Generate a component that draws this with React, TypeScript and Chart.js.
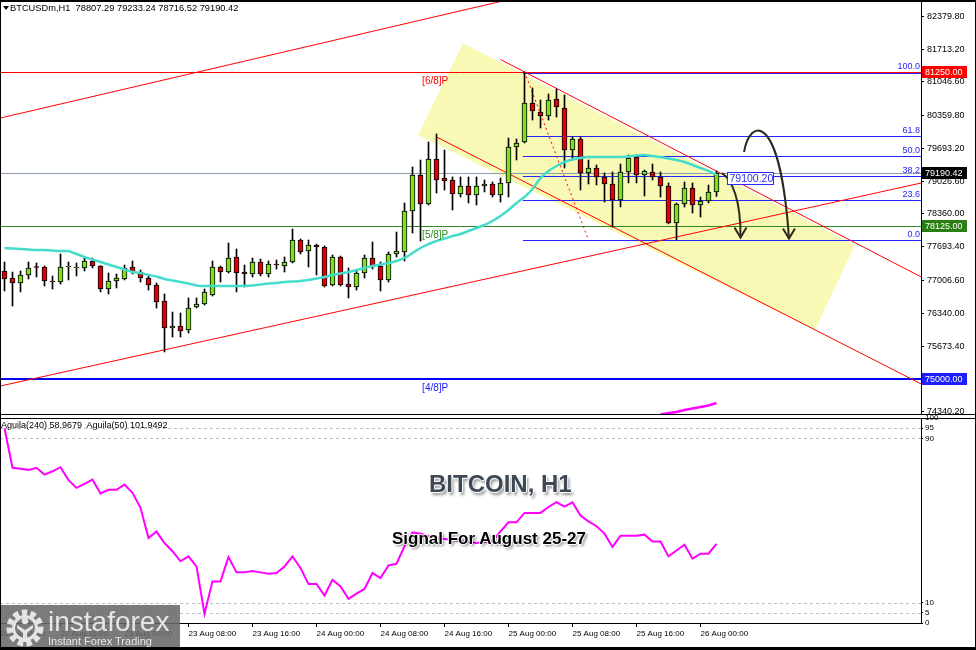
import React, { useEffect, useRef } from "react";
import { Chart, registerables } from "chart.js";

Chart.register(...registerables);

// ---------------- data ----------------
const opens = [
  77201, 77058, 76957, 77119, 77282, 77282, 76997, 76977, 77282, 77262,
  77262, 77404, 77302, 76835, 76997, 77038, 77282, 77180, 77058, 76916,
  76591, 76042, 76082, 76001, 76469, 76530, 76713, 77282, 77180, 77485,
  77180, 77140, 77383, 77140, 77343, 77302, 77383, 77831, 77607, 77729,
  77688, 76916, 77485, 76936, 76875, 77160, 77465, 77302, 77018, 77546,
  77587, 78420, 79152, 78563, 79477, 79091, 79051, 78766, 78929, 78746,
  78929, 78969, 78746, 78990, 79721, 79823, 80616, 80433, 80352, 80697,
  80514, 79660, 79884, 79193, 79295, 79112, 78969, 78644, 79213, 79518,
  79152, 79213, 79112, 78929, 78176, 78563, 78888, 78542, 78624, 78807.29,
];
const highs = [
  77383, 77180, 77201, 77383, 77363, 77302, 77099, 77546, 77383, 77363,
  77465, 77465, 77310, 77160, 77140, 77322, 77404, 77221, 77119, 76957,
  76733, 76367, 76347, 76652, 76652, 76835, 77404, 77302, 77770, 77648,
  77322, 77465, 77444, 77404, 77424, 77485, 78054, 77851, 77831, 77749,
  77709, 77526, 77505, 77262, 77221, 77526, 77790, 77383, 77587, 77993,
  78583, 79315, 79457, 79823, 79986, 79660, 79112, 79112, 79112, 79112,
  79051, 79010, 79091, 79904, 79884, 81250, 80921, 80677, 80799, 80901,
  80779, 79925, 79925, 79457, 79355, 79193, 79213, 79376, 79559, 79559,
  79254, 79376, 79213, 78990, 78583, 79010, 78990, 78705, 78949, 79233.24,
];
const lows = [
  76794, 76489, 76774, 77038, 77079, 76896, 76835, 76936, 77018, 77099,
  77201, 77262, 76774, 76733, 76855, 77018, 77140, 76977, 76814, 76448,
  75554, 75859, 75859, 75940, 76448, 76509, 76692, 76977, 77160, 76774,
  76875, 77079, 77099, 77079, 77241, 77180, 77363, 77546, 77282, 77119,
  76875, 76896, 76896, 76652, 76814, 77058, 77241, 76794, 76977, 77485,
  77404, 77973, 77810, 78542, 78786, 78847, 78441, 78705, 78583, 78542,
  78807, 78705, 78603, 78705, 79457, 79803, 80270, 80108, 80270, 80331,
  79295, 79457, 78847, 78969, 78949, 78603, 78095, 78502, 78990, 78990,
  78725, 79051, 78705, 78160, 77831, 78502, 78380, 78298, 78583, 78716.52,
];
const closes = [
  77038, 76957, 77119, 77262, 77272, 76997, 76977, 77282, 77290, 77272,
  77404, 77302, 76835, 76997, 77058, 77262, 77180, 77058, 76916, 76570,
  76042, 76082, 75981, 76448, 76530, 76774, 77282, 77180, 77465, 77160,
  77140, 77383, 77140, 77343, 77322, 77383, 77831, 77587, 77729, 77688,
  76896, 77485, 76916, 76875, 77160, 77465, 77282, 77018, 77546, 77607,
  78420, 79152, 78563, 79477, 79051, 79030, 78766, 78929, 78746, 78929,
  78969, 78746, 78990, 79721, 79803, 80616, 80453, 80352, 80677, 80535,
  79660, 79884, 79193, 79295, 79112, 78969, 78644, 79213, 79498, 79152,
  79234, 79112, 78929, 78176, 78563, 78888, 78542, 78624, 78807, 79190.42,
];
const maValues = [
  77668, 77658, 77648, 77638, 77627, 77627, 77617, 77607, 77607, 77546,
  77485, 77434, 77383, 77333, 77282, 77231, 77180, 77160, 77119, 77089,
  77038, 77007, 76977, 76946, 76906, 76896, 76896, 76896, 76896, 76896,
  76896, 76906, 76926, 76946, 76957, 76977, 76987, 76997, 77018, 77048,
  77079, 77119, 77150, 77180, 77221, 77262, 77302, 77333, 77363, 77404,
  77465, 77566, 77668, 77749, 77810, 77861, 77912, 77953, 78014, 78075,
  78136, 78217, 78319, 78441, 78583, 78705, 78868, 79091, 79234, 79335,
  79417, 79467, 79498, 79518, 79518, 79518, 79518, 79518, 79528, 79549,
  79559, 79539, 79518, 79488, 79457, 79417, 79355, 79295, 79234, 79152,
];
const aguila240 = [
  95, 75.7, 75.2, 74.7, 75.7, 72.4, 74, 76, 69.7, 65.9,
  67.9, 70, 63.2, 65, 65, 67.5, 63.5, 56.2, 41.5, 44.6,
  39, 35, 30.1, 32.5, 27.6, 4.5, 20.3, 20.3, 32.2, 24.7,
  24.7, 25.4, 24.7, 24, 24.4, 27.6, 32.5, 26.8, 19, 19,
  13.4, 21.1, 17.8, 11.8, 14.3, 16.6, 24.4, 21.9, 28.1, 28.9,
  37.4, 44.2, 43.6, 42.3, 41.5, 41, 40.5, 40, 39.5, 39,
  39.5, 39.8, 44.7, 49.1, 49.1, 53.7, 53.7, 53.7, 56.6, 58.9,
  56.8, 58.9, 52.4, 49.6, 47.2, 43.6, 37.1, 42.6, 42.6, 42.6,
  43.1, 39.8, 39.8, 32.5, 35.4, 38.2, 31.4, 33.8, 33.8, 38.6,
];
const aguila50Idx = [82, 83, 84, 85, 86, 87, 88, 89];
const aguila50Price = [74283, 74314, 74334, 74375, 74405, 74436, 74466, 74517];

const priceTicks = [
  82379.8, 81713.2, 81046.6, 80359.8, 79693.2, 79026.6, 78360.0,
  77693.4, 77006.6, 76340.0, 75673.4, 74340.2,
];
const indicatorTicks = [100, 95, 90, 10, 5, 0];
const indicatorLevels = [95, 90, 10, 5];
const timeTickIdx = [-0.5, 7, 15, 23, 31, 39, 47, 55, 63, 71, 79, 87];
const timeLabels = [
  "22 Aug 2026", "22 Aug 16:00", "23 Aug 00:00", "23 Aug 08:00", "23 Aug 16:00",
  "24 Aug 00:00", "24 Aug 08:00", "24 Aug 16:00", "25 Aug 00:00", "25 Aug 08:00",
  "25 Aug 16:00", "26 Aug 00:00",
];

// horizontal pivot levels
const levelPrices = [81250, 78125, 75000];
const levelLabels = ["[6/8]P", "[5/8]P", "[4/8]P"];
const levelColors = ["#FF0000", "#2E8B22", "#0000FF"];
const levelLabelIdx = 52.2;

// fibonacci
const fibHigh = 81250;
const fibLow = 77831;
const fibStartIdx = 64.8;
const fibBaseIdx = [65, 73];
const fibRatios = [100, 61.8, 50, 38.2, 23.6, 0];

// trend lines (bar index, price)
const trendStartIdx = [-0.5, -0.5, 62, 54];
const trendStartPrice = [80311, 74863, 81500, 79925];
const trendEndIdx = [69.5, 114.6, 114.6, 114.6];
const trendEndPrice = [82964, 78990, 77079, 74903];

// yellow zone
const zoneIdx = [57.31, 106.31, 101.31, 51.69];
const zonePrice = [81836, 77729, 76001, 79965];

// arrows (cubic bezier control points)
const arrow1Idx = [89.69, 90.94, 92.06, 92.0];
const arrow1Price = [79193, 79051, 78644, 77882];
const arrow2Idx = [92.44, 93.19, 96.94, 98.06];
const arrow2Price = [79620, 80311, 80474, 77861];

const boxLabelIdx = 90.3;
const boxLabelPrice = 79100.2;

const axisBoxPrices = [81250, 79190.42, 78125, 75000];
const axisBoxColors = ["#FF0000", "#000000", "#2A7F12", "#1E1EFF"];

// ---------------- scales ----------------
const X_MIN = -0.5625;
const X_MAX = 114.5625;
const Y_MAX = 82710;
const Y_MIN = 74293.4;

const GREEN = "#7CE01E";
const RED = "#E00000";
const FONT = "Liberation Sans";

const mainPlugin = {
  id: "mainAnnotations",
  beforeDatasetsDraw(chart: any) {
    const { ctx, chartArea: a } = chart;
    const X = (v: number) => chart.scales.x.getPixelForValue(v);
    const Y = (v: number) => chart.scales.y.getPixelForValue(v);
    ctx.save();
    ctx.beginPath();
    ctx.rect(a.left, a.top, a.right - a.left, a.bottom - a.top);
    ctx.clip();

    // yellow zone
    ctx.beginPath();
    zoneIdx.forEach((iv, k) => {
      const px = X(iv), py = Y(zonePrice[k]);
      if (k === 0) ctx.moveTo(px, py); else ctx.lineTo(px, py);
    });
    ctx.closePath();
    ctx.fillStyle = "#F9F9B6";
    ctx.fill();

    const hline = (price: number, x0: number, x1: number, color: string, w: number, dy = 0) => {
      const yy = Math.round(Y(price)) + (w % 2 ? 0.5 : 0) + dy;
      ctx.beginPath();
      ctx.moveTo(x0, yy);
      ctx.lineTo(x1, yy);
      ctx.strokeStyle = color;
      ctx.lineWidth = w;
      ctx.stroke();
    };

    // current price line
    hline(closes[closes.length - 1], a.left, a.right, "#8C9CB2", 1);

    // pivot levels
    levelPrices.forEach((p, k) => hline(p, a.left, a.right, levelColors[k], k === 2 ? 2 : 1));

    // fib levels
    fibRatios.forEach((r) => {
      const p = fibLow + (fibHigh - fibLow) * r / 100;
      hline(p, X(fibStartIdx), a.right, "#2424FF", 1, r === 100 ? 1 : 0);
    });

    // trend lines
    ctx.setLineDash([]);
    trendStartIdx.forEach((s, k) => {
      ctx.beginPath();
      ctx.moveTo(X(s), Y(trendStartPrice[k]));
      ctx.lineTo(X(trendEndIdx[k]), Y(trendEndPrice[k]));
      ctx.strokeStyle = "#FF0000";
      ctx.lineWidth = 1;
      ctx.stroke();
    });

    // fib base dotted line
    ctx.beginPath();
    ctx.setLineDash([2, 3]);
    ctx.moveTo(X(fibBaseIdx[0]), Y(fibHigh));
    ctx.lineTo(X(fibBaseIdx[1]), Y(fibLow));
    ctx.strokeStyle = "#FF0000";
    ctx.stroke();
    ctx.setLineDash([]);
    ctx.restore();
  },
  afterDatasetsDraw(chart: any) {
    const { ctx, chartArea: a } = chart;
    const X = (v: number) => chart.scales.x.getPixelForValue(v);
    const Y = (v: number) => chart.scales.y.getPixelForValue(v);
    ctx.save();
    ctx.beginPath();
    ctx.rect(a.left, a.top, a.right - a.left, a.bottom - a.top);
    ctx.clip();

    // arrows
    const drawArrow = (idx: number[], pr: number[]) => {
      const pts = idx.map((iv, k) => [X(iv), Y(pr[k])]);
      ctx.beginPath();
      ctx.moveTo(pts[0][0], pts[0][1]);
      ctx.bezierCurveTo(pts[1][0], pts[1][1], pts[2][0], pts[2][1], pts[3][0], pts[3][1]);
      ctx.strokeStyle = "#2B2A1C";
      ctx.lineWidth = 2;
      ctx.stroke();
      const [tx, ty] = pts[3];
      ctx.beginPath();
      ctx.moveTo(tx - 6, ty - 10);
      ctx.lineTo(tx, ty);
      ctx.lineTo(tx + 6, ty - 10);
      ctx.stroke();
    };
    drawArrow(arrow1Idx, arrow1Price);
    drawArrow(arrow2Idx, arrow2Price);

    // fib labels
    ctx.font = `9px ${FONT}`;
    ctx.fillStyle = "#2424FF";
    ctx.textAlign = "right";
    ctx.textBaseline = "alphabetic";
    fibRatios.forEach((r) => {
      const p = fibLow + (fibHigh - fibLow) * r / 100;
      ctx.fillText(r.toFixed(1), a.right - 1, Math.round(Y(p)) - 3);
    });

    // level labels
    ctx.textAlign = "left";
    ctx.textBaseline = "top";
    ctx.font = `10px ${FONT}`;
    levelPrices.forEach((p, k) => {
      ctx.fillStyle = levelColors[k] === "#0000FF" ? "#2020FF" : levelColors[k];
      ctx.fillText(levelLabels[k], X(levelLabelIdx), Math.round(Y(p)) + 4);
    });

    // price label box
    const bx = Math.round(X(boxLabelIdx)) + 0.5;
    const by = Math.round(Y(boxLabelPrice)) - 5.5;
    ctx.fillStyle = "#FFFFFF";
    ctx.fillRect(bx, by, 46, 12);
    ctx.strokeStyle = "#2B2BFF";
    ctx.lineWidth = 1;
    ctx.strokeRect(bx, by, 46, 12);
    ctx.fillStyle = "#2B2BFF";
    ctx.font = `10.5px ${FONT}`;
    ctx.textBaseline = "middle";
    ctx.fillText(boxLabelPrice.toFixed(2), bx + 2, by + 6.5);
    ctx.restore();
  },
  afterDraw(chart: any) {
    const { ctx, chartArea: a } = chart;
    const Y = (v: number) => chart.scales.y.getPixelForValue(v);
    ctx.save();
    ctx.font = `9px ${FONT}`;
    ctx.textAlign = "left";
    ctx.textBaseline = "middle";
    axisBoxPrices.forEach((p, k) => {
      const yy = Math.round(Y(p));
      ctx.fillStyle = axisBoxColors[k];
      ctx.fillRect(a.right + 1, yy - 6, 45, 12);
      ctx.fillStyle = "#FFFFFF";
      ctx.fillText(p.toFixed(2), a.right + 4, yy + 0.5);
    });
    ctx.strokeStyle = "#000";
    ctx.lineWidth = 1;
    ctx.beginPath();
    ctx.moveTo(0, a.bottom + 0.5);
    ctx.lineTo(chart.width, a.bottom + 0.5);
    ctx.stroke();
    ctx.restore();
  },
};

const indPlugin = {
  id: "indLevels",
  beforeDatasetsDraw(chart: any) {
    const { ctx, chartArea: a } = chart;
    const y = chart.scales.y;
    ctx.save();
    ctx.setLineDash([3, 3]);
    ctx.strokeStyle = "#BDBDBD";
    ctx.lineWidth = 1;
    indicatorLevels.forEach((v) => {
      const yy = Math.round(y.getPixelForValue(v)) + 0.5;
      ctx.beginPath();
      ctx.moveTo(a.left, yy);
      ctx.lineTo(a.right, yy);
      ctx.stroke();
    });
    ctx.restore();
  },
  afterDraw(chart: any) {
    const { ctx, chartArea: a } = chart;
    ctx.save();
    ctx.strokeStyle = "#000";
    ctx.lineWidth = 1;
    ctx.beginPath();
    ctx.moveTo(0, a.top + 0.5);
    ctx.lineTo(chart.width, a.top + 0.5);
    ctx.stroke();
    ctx.restore();
  },
};

export default function App() {
  const mainRef = useRef<HTMLCanvasElement>(null);
  const indRef = useRef<HTMLCanvasElement>(null);

  useEffect(() => {
    document.body.style.margin = "0";
    const candleColors = closes.map((c, i) => (c >= opens[i] ? GREEN : RED));

    const main = new Chart(mainRef.current as HTMLCanvasElement, {
      type: "bar",
      data: {
        datasets: [
          {
            type: "line",
            label: "MA",
            data: maValues.map((v, i) => ({ x: i, y: v })),
            borderColor: "#44DCCB",
            borderWidth: 2.5,
            pointRadius: 0,
            tension: 0.2,
            order: 0,
          } as any,
          {
            type: "line",
            label: "Aguila50",
            data: aguila50Idx.map((iv, k) => ({ x: iv, y: aguila50Price[k] })),
            borderColor: "#FF00FF",
            borderWidth: 2.5,
            pointRadius: 0,
            order: 0,
          } as any,
          {
            type: "bar",
            label: "body",
            data: opens.map((o, i) => ({ x: i, y: [o, closes[i]] })),
            backgroundColor: candleColors,
            borderColor: "#000000",
            borderWidth: 1,
            borderSkipped: false,
            barThickness: 5,
            minBarLength: 1,
            grouped: false,
            order: 1,
          } as any,
          {
            type: "bar",
            label: "wick",
            data: lows.map((l, i) => ({ x: i, y: [l, highs[i]] })),
            backgroundColor: "#000000",
            borderWidth: 0,
            barThickness: 1,
            grouped: false,
            order: 2,
          } as any,
        ],
      },
      options: {
        animation: false,
        responsive: false,
        maintainAspectRatio: false,
        layout: { padding: { left: 0, right: 0, top: 0, bottom: 4 } },
        plugins: { legend: { display: false }, tooltip: { enabled: false } },
        scales: {
          x: { type: "linear", min: X_MIN, max: X_MAX, display: false, offset: false },
          y: {
            type: "linear",
            position: "right",
            min: Y_MIN,
            max: Y_MAX,
            afterBuildTicks: (s: any) => { s.ticks = priceTicks.map((v) => ({ value: v })); },
            afterFit: (s: any) => { s.width = 55; s.paddingTop = 0; s.paddingBottom = 0; },
            ticks: {
              font: { family: FONT, size: 9 },
              color: "#000",
              padding: 3,
              callback: (v: any) => Number(v).toFixed(2),
            },
            grid: { drawOnChartArea: false, drawTicks: true, tickLength: 3, color: "#000" },
            border: { display: true, color: "#000", width: 1 },
          },
        },
      } as any,
      plugins: [mainPlugin],
    });

    const ind = new Chart(indRef.current as HTMLCanvasElement, {
      type: "line",
      data: {
        datasets: [
          {
            label: "Aguila(240)",
            data: aguila240.map((v, i) => ({ x: i, y: v })),
            borderColor: "#FF00FF",
            borderWidth: 2,
            pointRadius: 0,
            tension: 0,
          },
        ],
      },
      options: {
        animation: false,
        responsive: false,
        maintainAspectRatio: false,
        layout: { padding: { left: 0, right: 0, top: 3, bottom: 0 } },
        plugins: { legend: { display: false }, tooltip: { enabled: false } },
        scales: {
          x: {
            type: "linear",
            min: X_MIN,
            max: X_MAX,
            offset: false,
            afterBuildTicks: (s: any) => { s.ticks = timeTickIdx.map((v) => ({ value: v })); },
            afterFit: (s: any) => { s.height = 27; s.paddingLeft = 0; s.paddingRight = 0; },
            ticks: {
              autoSkip: false,
              maxRotation: 0,
              minRotation: 0,
              align: "start",
              padding: 2,
              font: { family: FONT, size: 8 },
              color: "#000",
              callback: (_v: any, index: number) => timeLabels[index],
            },
            grid: { drawOnChartArea: false, drawTicks: true, tickLength: 4, color: "#000" },
            border: { display: true, color: "#000", width: 1 },
          },
          y: {
            type: "linear",
            position: "right",
            min: 0,
            max: 100,
            afterBuildTicks: (s: any) => { s.ticks = indicatorTicks.map((v) => ({ value: v })); },
            afterFit: (s: any) => { s.width = 55; s.paddingTop = 0; s.paddingBottom = 0; },
            ticks: {
              font: { family: FONT, size: 8 },
              color: "#000",
              padding: 2,
              callback: (v: any) => String(v),
            },
            grid: { drawOnChartArea: false, drawTicks: true, tickLength: 2, color: "#000" },
            border: { display: true, color: "#000", width: 1 },
          },
        },
      } as any,
      plugins: [indPlugin],
    });

    return () => {
      main.destroy();
      ind.destroy();
    };
  }, []);

  return (
    <div
      style={{
        position: "absolute",
        left: 0,
        top: 0,
        width: 976,
        height: 650,
        background: "#FFFFFF",
        overflow: "hidden",
        fontFamily: `${FONT}, Arial, sans-serif`,
      }}
    >
      <canvas ref={mainRef} width={976} height={418} style={{ position: "absolute", left: 0, top: 0 }} />
      <canvas ref={indRef} width={976} height={235} style={{ position: "absolute", left: 0, top: 415 }} />

      {/* header */}
      <div style={{ position: "absolute", left: 3, top: 6, width: 0, height: 0, borderLeft: "3px solid transparent", borderRight: "3px solid transparent", borderTop: "4px solid #000" }} />
      <div style={{ position: "absolute", left: 10, top: 2, fontSize: 9.3, lineHeight: "12px", color: "#000", whiteSpace: "pre" }}>
        {"BTCUSDm,H1  78807.29 79233.24 78716.52 79190.42"}
      </div>

      {/* indicator header */}
      <div style={{ position: "absolute", left: 1, top: 420, fontSize: 9, lineHeight: "11px", color: "#000", whiteSpace: "pre" }}>
        {"Aguila(240) 58.9679  Aguila(50) 101.9492"}
      </div>

      {/* titles */}
      <div
        style={{
          position: "absolute", left: 429, top: 472, fontSize: 24, lineHeight: "24px", fontWeight: 700,
          color: "#3E4955", whiteSpace: "pre",
          textShadow: "1px 0 0 #fff, -1px 0 0 #fff, 0 1px 0 #fff, 0 -1px 0 #fff, 2px 3px 3px rgba(0,0,0,0.45)",
        }}
      >
        BITCOIN, H1
      </div>
      <div
        style={{
          position: "absolute", left: 392, top: 530, fontSize: 17, lineHeight: "17px", fontWeight: 700,
          color: "#000", whiteSpace: "pre",
          textShadow: "1px 0 0 #fff, -1px 0 0 #fff, 0 1px 0 #fff, 0 -1px 0 #fff, 2px 2px 3px rgba(0,0,0,0.5)",
        }}
      >
        Signal For August 25-27
      </div>

      {/* logo */}
      <div style={{ position: "absolute", left: 0, top: 605, width: 180, height: 45, background: "rgba(105,105,105,0.88)" }}>
        <svg width={44} height={44} style={{ position: "absolute", left: 3, top: 1 }} viewBox="0 0 44 44">
          <circle cx={22} cy={22} r={15} fill="none" stroke="#E4E4E4" strokeWidth={7} strokeDasharray="5.2 3.2" />
          <circle cx={22} cy={22} r={11.5} fill="none" stroke="#E4E4E4" strokeWidth={3} />
          <circle cx={22} cy={15} r={3.2} fill="#E4E4E4" />
          <path d="M14 19 L22 24 L30 19 L30 22 L24 27 L24 36 L20 36 L20 27 L14 22 Z" fill="#E4E4E4" />
        </svg>
        <div style={{ position: "absolute", left: 48, top: 1, fontSize: 28, lineHeight: "32px", color: "#E6E6E6", whiteSpace: "pre" }}>
          instaforex
        </div>
        <div style={{ position: "absolute", left: 48, top: 30, fontSize: 11, lineHeight: "13px", color: "#E6E6E6", whiteSpace: "pre" }}>
          Instant Forex Trading
        </div>
      </div>

      {/* frame */}
      <div
        style={{
          position: "absolute", left: 0, top: 0, width: 976, height: 650, boxSizing: "border-box",
          borderTop: "2px solid #000", borderLeft: "1px solid #000", borderBottom: "3px solid #000",
          borderRight: "1px solid #000", pointerEvents: "none",
        }}
      />
    </div>
  );
}
